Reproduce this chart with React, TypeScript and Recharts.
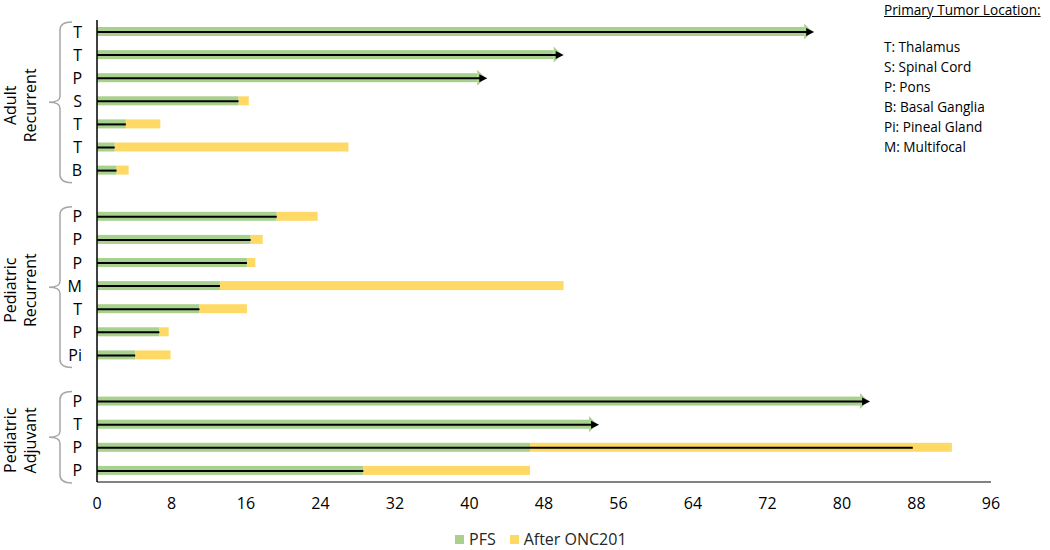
import React from 'react';
import { BarChart, Bar, XAxis, YAxis, Legend } from 'recharts';

// one row per patient, blank rows separate the three cohorts
const rowIds = ['a1', 'a2', 'a3', 'a4', 'a5', 'a6', 'a7', 'gap1', 'r1', 'r2', 'r3', 'r4', 'r5', 'r6', 'r7', 'gap2', 'j1', 'j2', 'j3', 'j4'];
const locations = ['T', 'T', 'P', 'S', 'T', 'T', 'B', '', 'P', 'P', 'P', 'M', 'T', 'P', 'Pi', '', 'P', 'T', 'P', 'P'];
const pfs = [76.8, 49.9, 41.7, 15.2, 3.1, 1.9, 2.1, 0, 19.3, 16.5, 16.1, 13.2, 11.0, 6.7, 4.1, 0, 82.8, 53.7, 46.5, 28.6];
const afterOnc = [0, 0, 0, 1.1, 3.7, 25.1, 1.3, 0, 4.4, 1.3, 0.9, 36.9, 5.1, 1.0, 3.8, 0, 0, 0, 45.3, 17.9];
const treatment = [76.8, 49.9, 41.7, 15.2, 3.1, 1.9, 2.1, 0, 19.3, 16.5, 16.1, 13.2, 11.0, 6.7, 4.1, 0, 82.8, 53.7, 87.6, 28.6];
const ongoing = [true, true, true, false, false, false, false, false, false, false, false, false, false, false, false, false, true, true, false, false];

const xTicks = [0, 8, 16, 24, 32, 40, 48, 56, 64, 72, 80, 88, 96];

const groups = [
  { first: 'a1', count: 7, lines: ['Adult', 'Recurrent'] },
  { first: 'r1', count: 7, lines: ['Pediatric', 'Recurrent'] },
  { first: 'j1', count: 4, lines: ['Pediatric', 'Adjuvant'] },
];

const locationKey = ['T: Thalamus', 'S: Spinal Cord', 'P: Pons', 'B: Basal Ganglia', 'Pi: Pineal Gland', 'M: Multifocal'];

const GREEN = '#a9d18e';
const YELLOW = '#ffd966';
const FONT = '"Open Sans", "Noto Sans", sans-serif';

const W = 1050;
const H = 550;
const MARGIN = { top: 20, right: 59, bottom: 38, left: 67 };
const X_AXIS_H = 30;
const BAND = (H - MARGIN.top - MARGIN.bottom - X_AXIS_H) / rowIds.length;

const data = rowIds.map((id, i) => ({
  id,
  loc: locations[i],
  pfs: pfs[i],
  after: afterOnc[i],
  tx: treatment[i],
  ongoing: ongoing[i],
}));

const PfsShape = (props: any) => {
  const { x, y, width, height, fill, payload } = props;
  if (!width || width <= 0) return null;
  if (payload.ongoing) {
    const head = 8;
    const cy = y + height / 2;
    return (
      <g>
        <rect x={x} y={y} width={width - head} height={height} fill={fill} />
        <polygon
          points={`${x + width - head},${cy - 8} ${x + width},${cy} ${x + width - head},${cy + 8}`}
          fill={fill}
        />
      </g>
    );
  }
  return <rect x={x} y={y} width={width} height={height} fill={fill} />;
};

const PlainShape = (props: any) => {
  const { x, y, width, height, fill } = props;
  if (!width || width <= 0) return null;
  return <rect x={x} y={y} width={width} height={height} fill={fill} />;
};

const LineShape = (props: any) => {
  const { x, y, width, height, payload } = props;
  if (!width || width <= 0) return null;
  const cy = y + height / 2;
  const end = x + width;
  if (payload.ongoing) {
    return (
      <g>
        <line x1={x} x2={end - 4} y1={cy} y2={cy} stroke="#000" strokeWidth={2} />
        <polygon points={`${end - 6},${cy - 4} ${end + 2},${cy} ${end - 6},${cy + 4}`} fill="#000" />
      </g>
    );
  }
  return <line x1={x} x2={end} y1={cy} y2={cy} stroke="#000" strokeWidth={2} />;
};

const RowTick = (props: any) => {
  const { x, y, payload } = props;
  const idx = rowIds.indexOf(payload.value);
  const group = groups.find((g) => g.first === payload.value);
  let extra = null;
  if (group) {
    const yT = y - BAND / 2 + 2;
    const yB = y - BAND / 2 + group.count * BAND + 1;
    const mid = (yT + yB) / 2;
    const d = `M72,${yT} Q60,${yT} 60,${yT + 8} L60,${mid - 6} Q60,${mid} 49,${mid} Q60,${mid} 60,${mid + 6} L60,${yB - 8} Q60,${yB} 72,${yB}`;
    extra = (
      <g>
        <path d={d} fill="none" stroke="#a6a6a6" strokeWidth={1.5} />
        {group.lines.map((t, k) => (
          <text
            key={t + k}
            x={10 + k * 20}
            y={mid + 3}
            transform={`rotate(-90, ${10 + k * 20}, ${mid + 3})`}
            textAnchor="middle"
            dominantBaseline="central"
            fontSize={16}
            fill="#000"
          >
            {t}
          </text>
        ))}
      </g>
    );
  }
  return (
    <g>
      <text x={x} y={y} textAnchor="end" dominantBaseline="central" fontSize={16} fill="#000">
        {locations[idx]}
      </text>
      {extra}
    </g>
  );
};

const LegendContent = () => (
  <div style={{ display: 'flex', alignItems: 'center', fontSize: 16, color: '#262626', fontFamily: FONT }}>
    <span style={{ width: 9, height: 9, background: GREEN, display: 'inline-block', marginRight: 5 }} />
    <span style={{ marginRight: 14 }}>PFS</span>
    <span style={{ width: 9, height: 9, background: YELLOW, display: 'inline-block', marginRight: 5 }} />
    <span>After ONC201</span>
  </div>
);

export default function App() {
  return (
    <div style={{ position: 'absolute', left: 0, top: 0, width: W, height: H, fontFamily: FONT, background: '#fff' }}>
      <BarChart width={W} height={H} data={data} layout="vertical" margin={MARGIN} barCategoryGap={0}>
        <XAxis
          type="number"
          domain={[0, 96]}
          ticks={xTicks}
          height={X_AXIS_H}
          axisLine={{ stroke: '#595959', strokeWidth: 1.5 }}
          tickLine={false}
          tickSize={0}
          tickMargin={16}
          tick={{ fontSize: 16, fill: '#000' }}
          interval={0}
        />
        <YAxis
          type="category"
          dataKey="id"
          width={30}
          axisLine={{ stroke: '#000', strokeWidth: 1.5 }}
          tickLine={false}
          tickSize={0}
          tickMargin={15}
          interval={0}
          tick={<RowTick />}
        />
        <YAxis yAxisId="line" type="category" dataKey="id" hide />
        <Legend
          layout="horizontal"
          verticalAlign="middle"
          align="center"
          wrapperStyle={{ top: 528, left: 455, width: 'auto' }}
          content={<LegendContent />}
        />
        <Bar dataKey="pfs" name="PFS" stackId="s" fill={GREEN} barSize={9} shape={<PfsShape />} isAnimationActive={false} />
        <Bar dataKey="after" name="After ONC201" stackId="s" fill={YELLOW} barSize={9} shape={<PlainShape />} isAnimationActive={false} />
        <Bar dataKey="tx" yAxisId="line" barSize={2} fill="#000" shape={<LineShape />} legendType="none" isAnimationActive={false} />
      </BarChart>
      <div style={{ position: 'absolute', left: 884, top: 1, fontSize: 13.6, lineHeight: '18px', color: '#000', whiteSpace: 'nowrap', textDecoration: 'underline' }}>
        Primary Tumor Location:
      </div>
      <div style={{ position: 'absolute', left: 884, top: 37, fontSize: 13.6, lineHeight: '20px', color: '#000', whiteSpace: 'nowrap' }}>
        {locationKey.map((t) => (
          <div key={t}>{t}</div>
        ))}
      </div>
    </div>
  );
}
